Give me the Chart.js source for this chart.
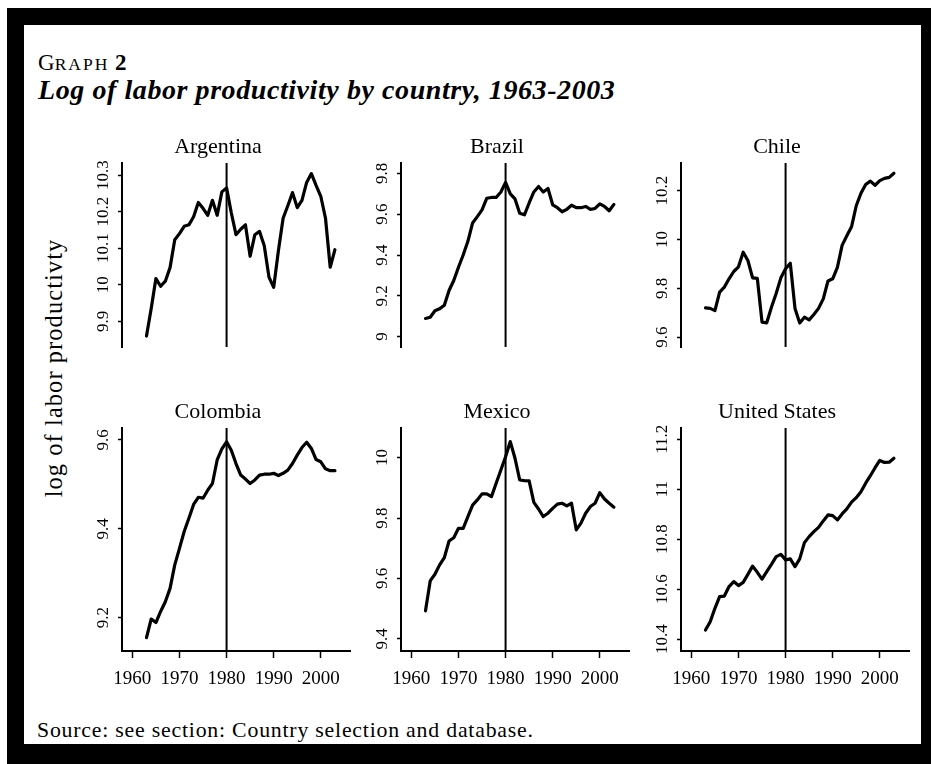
<!DOCTYPE html>
<html>
<head>
<meta charset="utf-8">
<title>Log of labor productivity by country, 1963-2003</title>
<script src="https://cdn.jsdelivr.net/npm/chart.js@4.4.1/dist/chart.umd.min.js"></script>
<style>
  html, body { margin: 0; padding: 0; background: #fff; }
  body { width: 931px; height: 764px; position: relative; overflow: hidden;
         font-family: "Liberation Serif", serif; color: #000; }
  #frame { position: absolute; left: 7px; top: 8px; width: 924px; height: 756px; box-sizing: border-box;
           border-style: solid; border-color: #000; border-width: 17px 10px 20px 17px; }
  .txt { position: absolute; white-space: nowrap; display: inline-block; }
  #graphNo { left: 38px; top: 50.7px; font-size: 23px; line-height: 23px; }
  #graphNo .sc { font-size: 17.5px; letter-spacing: 2px; }
  #title { left: 38px; font-style: italic; font-weight: bold; }
  #ylabel { transform: translate(-50%, -50%) rotate(-90deg); top: 367.5px; }
  #source { left: 37px; }
  canvas { position: absolute; display: block; }
</style>
</head>
<body>
<div id="frame"></div>
<div class="txt" id="graphNo">G<span class="sc">RAPH</span> <b>2</b></div>
<div class="txt" id="title">Log of labor productivity by country, 1963-2003</div>
<div class="txt" id="ylabel">log of labor productivty</div>
<div class="txt" id="source">Source: see section: Country selection and database.</div>

<script>
// ---- data ----
const years = [1963, 1964, 1965, 1966, 1967, 1968, 1969, 1970, 1971, 1972,
               1973, 1974, 1975, 1976, 1977, 1978, 1979, 1980, 1981, 1982,
               1983, 1984, 1985, 1986, 1987, 1988, 1989, 1990, 1991, 1992,
               1993, 1994, 1995, 1996, 1997, 1998, 1999, 2000, 2001, 2002, 2003];

const argentina = [9.86, 9.935, 10.017, 9.996, 10.01, 10.047, 10.123, 10.14, 10.16, 10.164,
                   10.186, 10.225, 10.209, 10.19, 10.231, 10.19, 10.254, 10.265, 10.197, 10.137,
                   10.152, 10.164, 10.078, 10.137, 10.146, 10.107, 10.021, 9.993, 10.093, 10.182,
                   10.216, 10.252, 10.211, 10.231, 10.28, 10.304, 10.272, 10.242, 10.182, 10.048, 10.096];
const brazil = [9.089, 9.095, 9.127, 9.136, 9.154, 9.226, 9.275, 9.34, 9.40, 9.467,
                9.557, 9.588, 9.621, 9.678, 9.682, 9.682, 9.709, 9.756, 9.70, 9.675,
                9.605, 9.597, 9.655, 9.709, 9.736, 9.709, 9.726, 9.646, 9.632, 9.612,
                9.624, 9.644, 9.632, 9.632, 9.638, 9.624, 9.628, 9.651, 9.638, 9.617, 9.648];
const chile = [9.72, 9.718, 9.709, 9.785, 9.805, 9.839, 9.869, 9.888, 9.948, 9.914,
               9.843, 9.841, 9.662, 9.659, 9.723, 9.779, 9.843, 9.88, 9.903, 9.718,
               9.658, 9.682, 9.671, 9.693, 9.718, 9.757, 9.83, 9.839, 9.886, 9.976,
               10.015, 10.052, 10.138, 10.189, 10.225, 10.239, 10.222, 10.241, 10.25, 10.254, 10.271];
const colombia = [9.155, 9.197, 9.189, 9.214, 9.236, 9.266, 9.319, 9.356, 9.394, 9.424,
                  9.455, 9.471, 9.469, 9.487, 9.502, 9.555, 9.58, 9.596, 9.577, 9.547,
                  9.521, 9.512, 9.502, 9.51, 9.521, 9.523, 9.523, 9.525, 9.52, 9.525,
                  9.532, 9.547, 9.566, 9.583, 9.595, 9.581, 9.556, 9.551, 9.535, 9.531, 9.531];
const mexico = [9.493, 9.592, 9.614, 9.645, 9.669, 9.724, 9.735, 9.766, 9.766, 9.805,
                9.843, 9.86, 9.88, 9.88, 9.871, 9.915, 9.959, 10.003, 10.053, 9.998,
                9.926, 9.924, 9.923, 9.852, 9.83, 9.805, 9.816, 9.832, 9.846, 9.849,
                9.84, 9.849, 9.761, 9.783, 9.816, 9.838, 9.849, 9.884, 9.863, 9.849, 9.836];
const unitedStates = [10.436, 10.469, 10.523, 10.57, 10.572, 10.61, 10.63, 10.614, 10.627, 10.659,
                      10.692, 10.667, 10.64, 10.67, 10.699, 10.73, 10.739, 10.717, 10.721, 10.69,
                      10.721, 10.786, 10.81, 10.83, 10.847, 10.873, 10.897, 10.894, 10.877, 10.901,
                      10.921, 10.948, 10.966, 10.99, 11.024, 11.054, 11.086, 11.115, 11.107, 11.108, 11.124];

const countries = ['Argentina', 'Brazil', 'Chile', 'Colombia', 'Mexico', 'United States'];
const series = [argentina, brazil, chile, colombia, mexico, unitedStates];

// y axis range and tick labels of each panel
const yRanges = [[9.83, 10.333], [8.949, 9.851], [9.56, 10.313],
                 [9.125, 9.627], [9.36, 10.098], [10.352, 11.245]];
const yTickLabels = [['9.9', '10', '10.1', '10.2', '10.3'],
                     ['9', '9.2', '9.4', '9.6', '9.8'],
                     ['9.6', '9.8', '10', '10.2'],
                     ['9.2', '9.4', '9.6'],
                     ['9.4', '9.6', '9.8', '10'],
                     ['10.4', '10.6', '10.8', '11', '11.2']];

const xRange = [1957.8, 2006.2];
const xTickLabels = ['1960', '1970', '1980', '1990', '2000'];
const breakYear = 1980;

// ---- layout ----
const plotLefts = [122, 401, 681];
const plotTops = [163, 428];
const plotHeights = [224, 223];
const PLOT_W = 228;
const AXIS_W = 36;     // room for y ticks + labels
const PAD_R = 11;
const TITLE_H = 30;
const XAXIS_H = 40;
const LABEL_OFF = 18;  // y label centre distance from axis
const Y_TICK = 4;
const ASC = 0.8375;    // baseline offset of Liberation Serif when line-height = font-size

Chart.defaults.font.family = '"Liberation Serif", serif';
Chart.defaults.color = '#000';

const measureCtx = document.createElement('canvas').getContext('2d');
function widest(labels, size) {
    measureCtx.font = size + 'px "Liberation Serif", serif';
    return Math.max(...labels.map(l => measureCtx.measureText(l).width));
}

function createPanel(i) {
    const col = i % 3;
    const row = Math.floor(i / 3);
    const bottomRow = row === 1;
    const canvas = document.createElement('canvas');
    canvas.width = AXIS_W + PLOT_W + PAD_R;
    canvas.height = TITLE_H + plotHeights[row] + (bottomRow ? XAXIS_H : 3);
    canvas.style.left = (plotLefts[col] - AXIS_W) + 'px';
    canvas.style.top = (plotTops[row] - TITLE_H) + 'px';
    document.body.appendChild(canvas);

    const yPad = LABEL_OFF - Y_TICK - widest(yTickLabels[i], 17) / 2;

    new Chart(canvas, {
        type: 'line',
        data: {
            datasets: [
                {
                    data: years.map((yr, k) => ({ x: yr, y: series[i][k] })),
                    borderColor: '#000', borderWidth: 3.2, pointRadius: 0, tension: 0,
                    borderJoinStyle: 'round', borderCapStyle: 'round'
                },
                {
                    // vertical reference line at 1980
                    data: [{ x: breakYear, y: yRanges[i][0] }, { x: breakYear, y: yRanges[i][1] }],
                    borderColor: '#000', borderWidth: 2, pointRadius: 0
                }
            ]
        },
        options: {
            responsive: false,
            animation: false,
            events: [],
            layout: { padding: { left: 0, right: PAD_R, top: 0, bottom: bottomRow ? 0 : 3 } },
            plugins: {
                legend: { display: false },
                tooltip: { enabled: false },
                title: {
                    display: true, text: countries[i], color: '#000',
                    font: { size: 22, weight: 'normal', lineHeight: '24px' },
                    padding: { top: 2, bottom: 4 }
                }
            },
            scales: {
                x: {
                    type: 'linear', min: xRange[0], max: xRange[1], display: bottomRow,
                    afterBuildTicks: s => { s.ticks = xTickLabels.map(t => ({ value: +t })); },
                    afterFit: s => { s.height = XAXIS_H; s.paddingLeft = 0; s.paddingRight = 0; },
                    ticks: {
                        autoSkip: false, minRotation: 0, maxRotation: 0, padding: 10,
                        font: { size: 19 }, color: '#000',
                        callback: (v, k) => xTickLabels[k]
                    },
                    grid: { drawOnChartArea: false, tickLength: 7, tickWidth: 1.5, tickColor: '#000' },
                    border: { color: '#000', width: 2 }
                },
                y: {
                    type: 'linear', min: yRanges[i][0], max: yRanges[i][1],
                    afterBuildTicks: s => { s.ticks = yTickLabels[i].map(t => ({ value: parseFloat(t) })); },
                    afterFit: s => { s.width = AXIS_W; s.paddingTop = 0; s.paddingBottom = 0; },
                    ticks: {
                        minRotation: 90, maxRotation: 90, crossAlign: 'center', padding: yPad,
                        font: { size: 17 }, color: '#000',
                        callback: (v, k) => yTickLabels[i][k]
                    },
                    grid: { drawOnChartArea: false, tickLength: Y_TICK, tickWidth: 1.5, tickColor: '#000' },
                    border: { color: '#000', width: 2 }
                }
            }
        }
    });
}

// size html texts to the widths in the reference: grow the font part way, letter-space the rest
function fitText(id, target, size, grow) {
    const el = document.getElementById(id);
    el.style.fontSize = size + 'px';
    el.style.lineHeight = size + 'px';
    if (grow) {
        size = size * Math.sqrt(target / el.offsetWidth);
        el.style.fontSize = size + 'px';
        el.style.lineHeight = size + 'px';
    }
    el.style.letterSpacing = ((target - el.offsetWidth) / el.textContent.length) + 'px';
    return { el, size };
}

let t = fitText('title', 577, 28, false);
t.el.style.top = (99 - ASC * t.size) + 'px';
t = fitText('source', 497, 20, true);
t.el.style.top = (738 - ASC * t.size) + 'px';
t = fitText('ylabel', 259, 22, true);
t.el.style.left = (62 - (ASC - 0.5) * t.size) + 'px';

countries.forEach((c, i) => createPanel(i));
</script>
</body>
</html>
